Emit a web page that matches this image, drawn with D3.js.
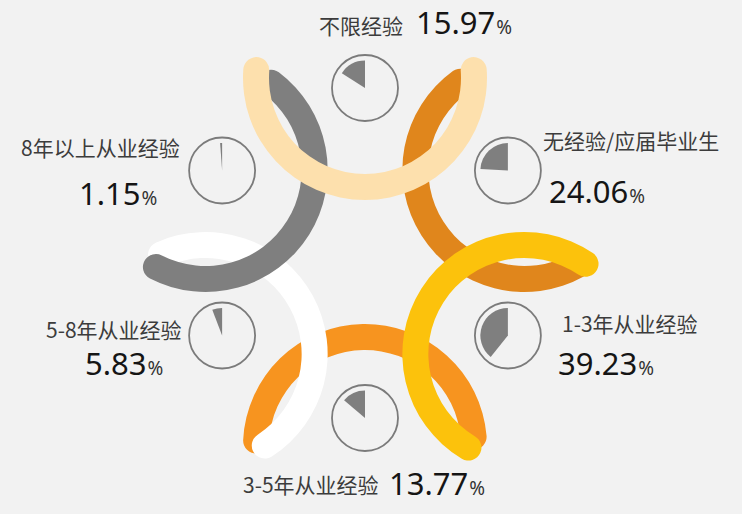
<!DOCTYPE html>
<html>
<head>
<meta charset="utf-8">
<script src="https://cdn.jsdelivr.net/npm/d3@7"></script>
<style>
  body { margin: 0; background: #f2f2f2; }
  svg { display: block; }
  .lbl { font-family: "Noto Sans CJK SC", sans-serif; font-size: 21px; fill: #3c3c3c; }
  .val { font-family: "Noto Sans", "Open Sans", sans-serif; font-size: 31px; fill: #151515; }
  .pct { font-size: 19px; fill: #333; }
</style>
</head>
<body>
<svg id="chart" width="742" height="514"></svg>
<script>
// clockwise from the top
const categories = ['不限经验', '无经验/应届毕业生', '1-3年从业经验', '3-5年从业经验', '5-8年从业经验', '8年以上从业经验'];
const shares = [15.97, 24.06, 39.23, 13.77, 5.83, 1.15];
const ribbonColors = ['#fde0ad', '#e0861c', '#fcc20c', '#f7941f', '#ffffff', '#7f7f7f'];
// which ribbon sits on top (drawn last)
const drawOrder = [3, 4, 5, 1, 2, 0];
// how far each ribbon reaches either side of its middle (degrees, [ccw, cw])
const ribbonReach = [[101, 101], [96, 91], [96, 101], [94, 92], [91, 94], [90, 94]];

// text placement: [labelX, labelY, anchor, valueX, valueY]
const textSpots = [
  [403, 34, 'end', 416, 34],
  [543, 149, 'start', 549, 203],
  [562, 332, 'start', 558, 375],
  [243, 493, 'start', 389, 495],
  [46, 338, 'start', 85, 375],
  [21, 156, 'start', 79, 205]
];

const width = 742, height = 514;
const cx = 365, cy = 262;     // middle of the flower
const ribbonDist = 184, ribbonR = 109, ribbonW = 26;
const gaugeCy = 253, gaugeDist = 165, gaugeR = 33, wedgeR = 27.5;

const svg = d3.select('#chart');

svg.append('rect').attr('width', width).attr('height', height).attr('fill', '#f2f2f2');

// direction each ribbon opens towards (screen degrees)
const dirScale = d3.scaleLinear().domain([0, 6]).range([-90, 270]);
const toRad = d => d * Math.PI / 180;

const ribbonArc = d3.arc()
  .innerRadius(ribbonR - ribbonW / 2)
  .outerRadius(ribbonR + ribbonW / 2)
  .cornerRadius(ribbonW / 2);

const ribbons = svg.append('g');
drawOrder.forEach(i => {
  let dir = dirScale(i);
  let x = cx + ribbonDist * Math.cos(toRad(dir));
  let y = cy + ribbonDist * Math.sin(toRad(dir));
  // covered part faces away from the opening; d3 angles start at 12 o'clock
  let mid = dir + 180 + 90;
  ribbons.append('path')
    .attr('transform', 'translate(' + x + ',' + y + ')')
    .attr('fill', ribbonColors[i])
    .attr('d', ribbonArc({ startAngle: toRad(mid - ribbonReach[i][0]), endAngle: toRad(mid + ribbonReach[i][1]) }));
});

// little gauges
const pctAngle = d3.scaleLinear().domain([0, 100]).range([0, -2 * Math.PI]);
const wedge = d3.arc().innerRadius(0).outerRadius(wedgeR);

const gauges = svg.append('g');
shares.forEach((v, i) => {
  let dir = dirScale(i);
  let g = gauges.append('g')
    .attr('transform', 'translate(' + (cx + gaugeDist * Math.cos(toRad(dir))) + ',' + (gaugeCy + gaugeDist * Math.sin(toRad(dir))) + ')');
  g.append('circle').attr('r', gaugeR).attr('fill', 'none').attr('stroke', '#7b7b7b').attr('stroke-width', 1.8);
  g.append('path').attr('fill', '#7f7f7f')
    .attr('d', wedge({ startAngle: pctAngle(v), endAngle: 0 }));
});

// texts
const texts = svg.append('g');
categories.forEach((c, i) => {
  let s = textSpots[i];
  texts.append('text').attr('class', 'lbl')
    .attr('x', s[0]).attr('y', s[1]).attr('text-anchor', s[2])
    .text(c);
  let t = texts.append('text').attr('class', 'val').attr('x', s[3]).attr('y', s[4]);
  t.append('tspan').text(shares[i].toFixed(2));
  t.append('tspan').attr('class', 'pct').attr('dx', 1).text('%');
});
</script>
</body>
</html>
